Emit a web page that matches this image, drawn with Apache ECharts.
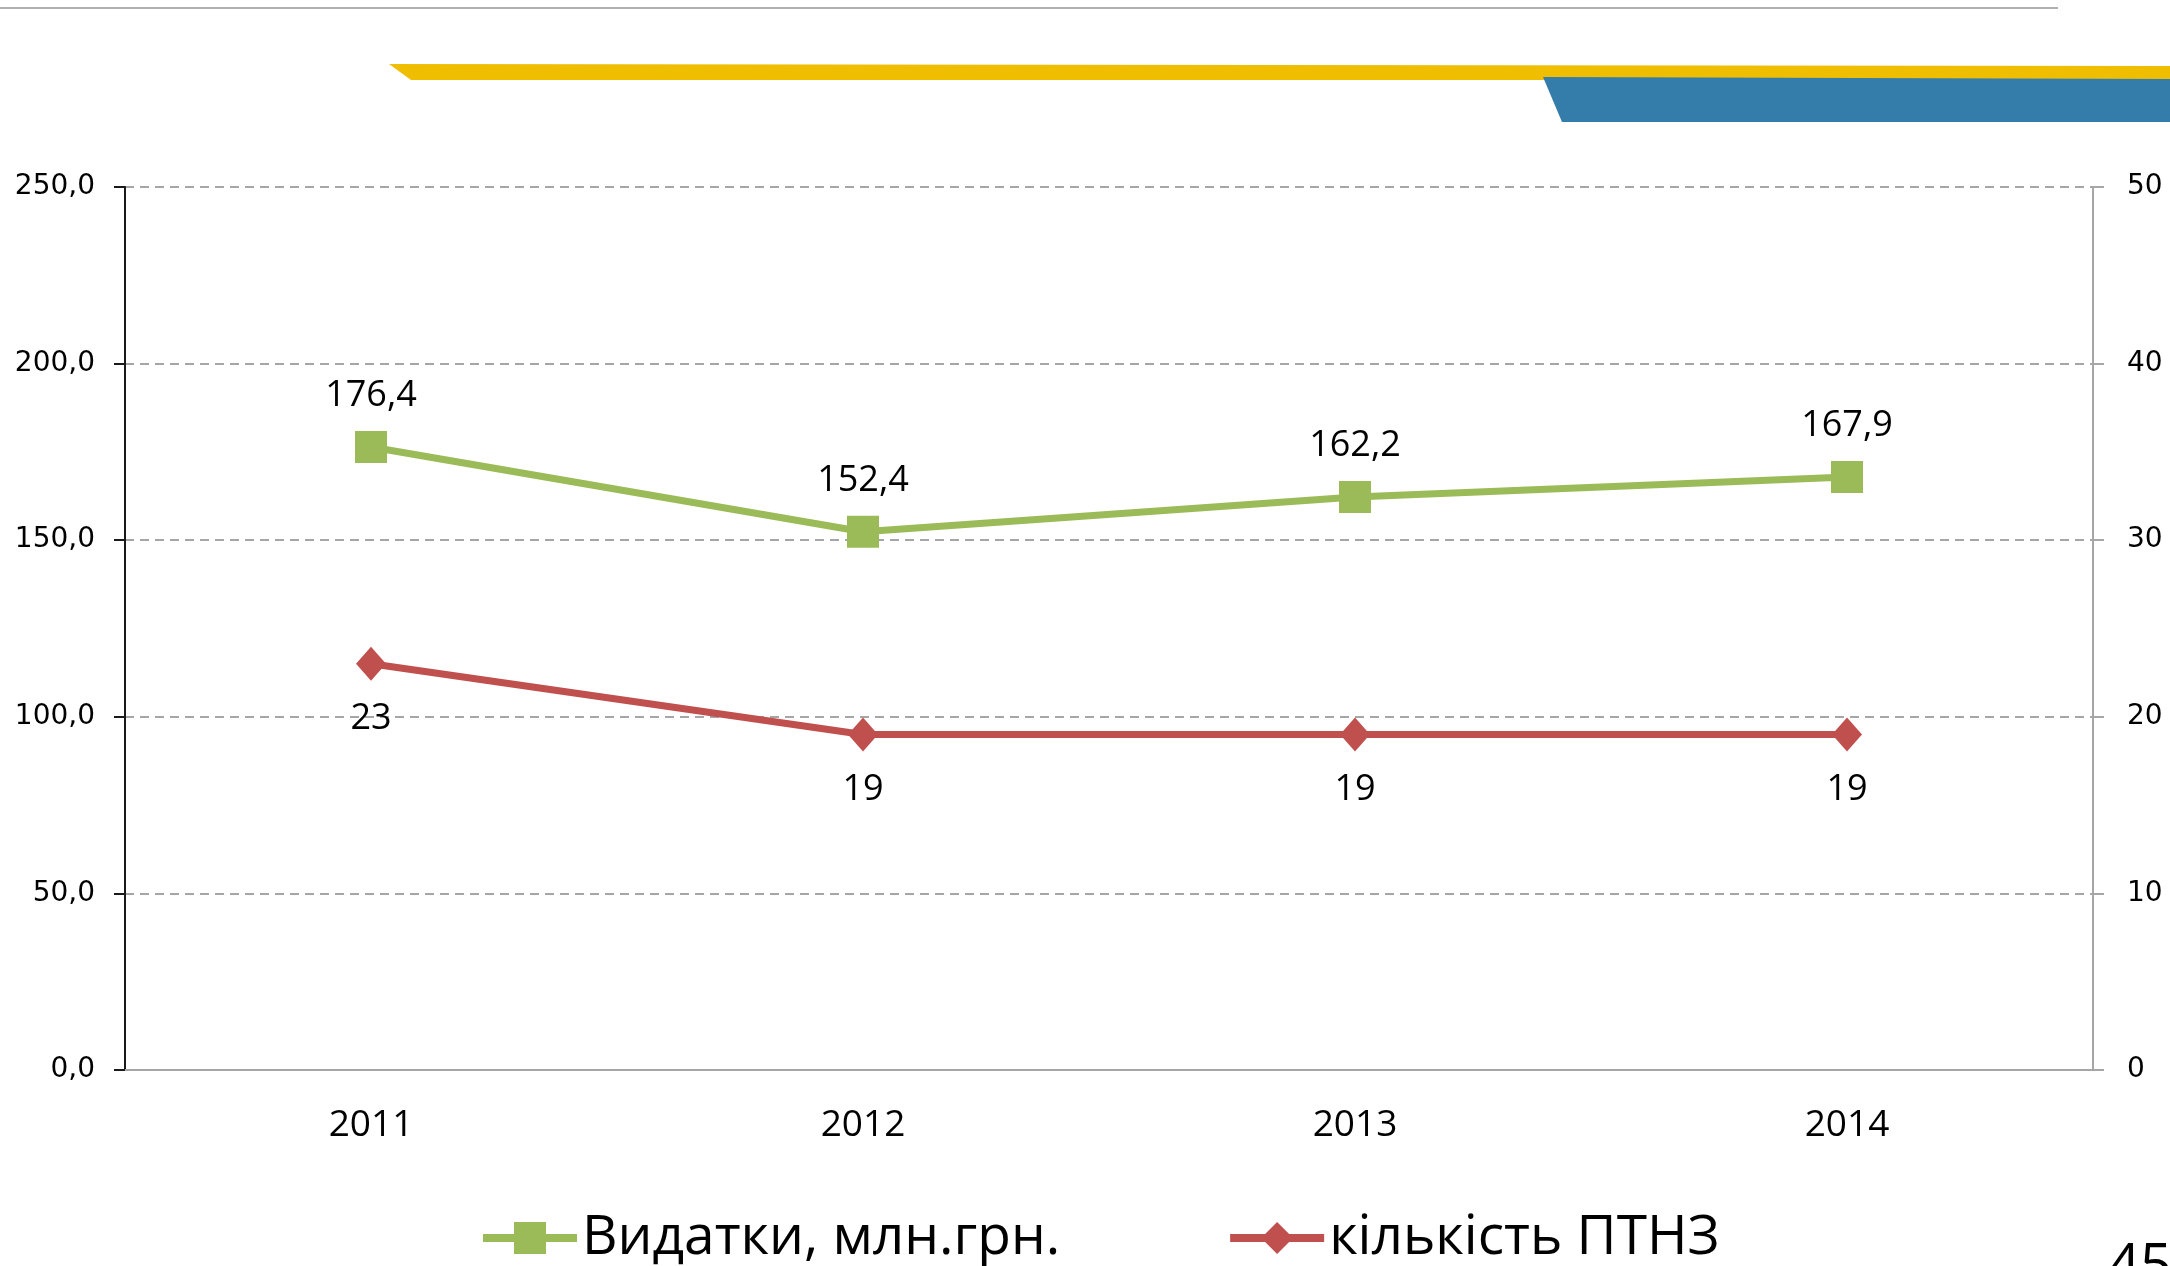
<!DOCTYPE html>
<html>
<head>
<meta charset="utf-8">
<script src="https://cdn.jsdelivr.net/npm/echarts@6/dist/echarts.min.js"></script>
<style>
  html, body { margin: 0; padding: 0; background: #fff; }
  #chart { width: 2170px; height: 1266px; }
</style>
</head>
<body>
<div id="chart"></div>
<script>
const years = ['2011', '2012', '2013', '2014']
const spending = [176.4, 152.4, 162.2, 167.9]
const schools = [23, 19, 19, 19]
const leftTicks = { min: 0, max: 250, interval: 50 }
const rightTicks = { min: 0, max: 50, interval: 10 }

const green = '#9BBB59'
const red = '#C0504D'
const sans = '"Open Sans", sans-serif'

const chart = echarts.init(document.getElementById('chart'))

chart.setOption({
  backgroundColor: '#fff',
  animation: false,
  graphic: [
    // page decoration strips
    { type: 'line', shape: { x1: 0, y1: 8, x2: 2058, y2: 8 }, style: { stroke: '#b0b0b0', lineWidth: 2 } },
    { type: 'polygon', shape: { points: [[389, 64], [2170, 66], [2170, 80], [411, 80]] }, style: { fill: '#F0BE00' } },
    { type: 'polygon', shape: { points: [[1543, 77], [2170, 79], [2170, 122], [1562, 122]] }, style: { fill: '#347CAA' } },
    { type: 'text', left: 2108, top: 1240, style: { text: '45', fontSize: 56, fontFamily: sans, fill: '#000' } }
  ],
  grid: { left: 125, right: 77, top: 187, bottom: 196 },
  legend: {
    left: 474,
    top: 1203,
    itemWidth: 94,
    itemHeight: 40,
    itemGap: 166,
    lineStyle: { width: 8 },
    textStyle: { fontFamily: sans, fontSize: 55, color: '#000', lineHeight: 60 },
    data: ['Видатки, млн.грн.', 'кількість ПТНЗ']
  },
  xAxis: {
    type: 'category',
    data: years,
    boundaryGap: true,
    axisLine: { lineStyle: { color: '#A6A6A6', width: 2 } },
    axisTick: { show: false },
    axisLabel: { color: '#000', fontFamily: sans, fontSize: 37, margin: 37 }
  },
  yAxis: [
    {
      type: 'value',
      ...leftTicks,
      axisLine: { show: true, lineStyle: { color: '#1a1a1a', width: 2 } },
      axisTick: { show: true, length: 11, lineStyle: { color: '#1a1a1a', width: 2 } },
      axisLabel: {
        color: '#000', fontFamily: '"DejaVu Sans", sans-serif', fontSize: 28, margin: 30,
        formatter: v => v.toFixed(1).replace('.', ',')
      },
      splitLine: { lineStyle: { color: '#A6A6A6', type: [9, 6], width: 2 } }
    },
    {
      type: 'value',
      ...rightTicks,
      position: 'right',
      axisLine: { show: true, lineStyle: { color: '#A6A6A6', width: 2 } },
      axisTick: { show: true, length: 11, lineStyle: { color: '#A6A6A6', width: 2 } },
      axisLabel: { color: '#000', fontFamily: '"DejaVu Sans", sans-serif', fontSize: 28, margin: 34 },
      splitLine: { show: false }
    }
  ],
  series: [
    {
      name: 'Видатки, млн.грн.',
      type: 'line',
      yAxisIndex: 0,
      data: spending,
      symbol: 'rect',
      symbolSize: 32,
      itemStyle: { color: green },
      lineStyle: { color: green, width: 7 },
      label: {
        show: true, position: 'top', distance: 17,
        color: '#000', fontFamily: sans, fontSize: 36,
        formatter: p => p.value.toFixed(1).replace('.', ',')
      }
    },
    {
      name: 'кількість ПТНЗ',
      type: 'line',
      yAxisIndex: 1,
      data: schools,
      symbol: 'diamond',
      symbolSize: [30, 34],
      itemStyle: { color: red },
      lineStyle: { color: red, width: 7 },
      label: {
        show: true, position: 'bottom', distance: 20,
        color: '#000', fontFamily: sans, fontSize: 36
      }
    }
  ]
})
</script>
</body>
</html>
